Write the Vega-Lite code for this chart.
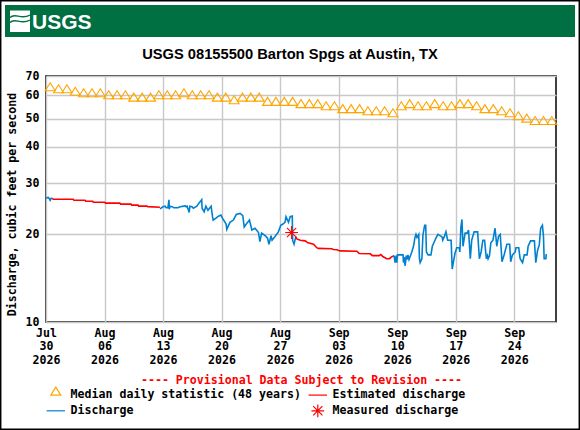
{
"$schema":"https://vega.github.io/schema/vega-lite/v6.json",
"width":510,"height":246,
"autosize":"none",
"padding":{"left":46,"top":76,"right":24,"bottom":108},
"background":"white",
"config":{"view":{"stroke":"black","strokeWidth":1.5},"font":"DejaVu Sans Mono"},
"title":{"text":"USGS 08155500 Barton Spgs at Austin, TX","font":"Liberation Sans","fontSize":14.7,"fontWeight":"bold","color":"black","anchor":"middle","dx":-11,"offset":-62},
"datasets":{
"flow":[
{"date":"2026-07-30T00:00Z","cfs":26.6,"series":"Discharge","seg":1},{"date":"2026-07-30T06:00Z","cfs":26.8,"series":"Discharge","seg":1},{"date":"2026-07-30T09:00Z","cfs":26.6,"series":"Discharge","seg":1},{"date":"2026-07-30T12:00Z","cfs":26.2,"series":"Discharge","seg":1},{"date":"2026-07-30T15:00Z","cfs":26.6,"series":"Discharge","seg":1},{"date":"2026-07-30T18:00Z","cfs":26.6,"series":"Discharge","seg":1},
{"date":"2026-07-30T18:00Z","cfs":26.6,"series":"Estimated discharge","seg":2},{"date":"2026-07-30T21:00Z","cfs":26.4,"series":"Estimated discharge","seg":2},{"date":"2026-08-02T06:00Z","cfs":26.4,"series":"Estimated discharge","seg":2},{"date":"2026-08-02T08:00Z","cfs":26.2,"series":"Estimated discharge","seg":2},{"date":"2026-08-03T16:00Z","cfs":26.2,"series":"Estimated discharge","seg":2},{"date":"2026-08-03T18:00Z","cfs":26.0,"series":"Estimated discharge","seg":2},{"date":"2026-08-04T14:00Z","cfs":26.0,"series":"Estimated discharge","seg":2},{"date":"2026-08-04T16:00Z","cfs":25.8,"series":"Estimated discharge","seg":2},{"date":"2026-08-06T00:00Z","cfs":25.8,"series":"Estimated discharge","seg":2},{"date":"2026-08-06T03:00Z","cfs":25.6,"series":"Estimated discharge","seg":2},{"date":"2026-08-07T20:00Z","cfs":25.6,"series":"Estimated discharge","seg":2},{"date":"2026-08-07T22:00Z","cfs":25.4,"series":"Estimated discharge","seg":2},{"date":"2026-08-09T04:00Z","cfs":25.4,"series":"Estimated discharge","seg":2},{"date":"2026-08-09T06:00Z","cfs":25.2,"series":"Estimated discharge","seg":2},{"date":"2026-08-10T00:00Z","cfs":25.2,"series":"Estimated discharge","seg":2},{"date":"2026-08-10T02:00Z","cfs":25.0,"series":"Estimated discharge","seg":2},{"date":"2026-08-11T02:00Z","cfs":25.0,"series":"Estimated discharge","seg":2},{"date":"2026-08-11T04:00Z","cfs":24.9,"series":"Estimated discharge","seg":2},{"date":"2026-08-12T15:00Z","cfs":24.8,"series":"Estimated discharge","seg":2},
{"date":"2026-08-12T15:00Z","cfs":24.5,"series":"Discharge","seg":3},{"date":"2026-08-12T18:00Z","cfs":24.6,"series":"Discharge","seg":3},{"date":"2026-08-13T00:00Z","cfs":24.9,"series":"Discharge","seg":3},{"date":"2026-08-13T06:00Z","cfs":25.0,"series":"Discharge","seg":3},{"date":"2026-08-13T09:00Z","cfs":24.7,"series":"Discharge","seg":3},{"date":"2026-08-13T14:00Z","cfs":24.7,"series":"Discharge","seg":3},{"date":"2026-08-13T17:00Z","cfs":26.3,"series":"Discharge","seg":3},{"date":"2026-08-13T18:00Z","cfs":24.4,"series":"Discharge","seg":3},{"date":"2026-08-13T20:00Z","cfs":25.0,"series":"Discharge","seg":3},{"date":"2026-08-14T02:00Z","cfs":24.9,"series":"Discharge","seg":3},{"date":"2026-08-14T07:00Z","cfs":24.7,"series":"Discharge","seg":3},{"date":"2026-08-14T19:00Z","cfs":24.7,"series":"Discharge","seg":3},{"date":"2026-08-15T01:00Z","cfs":24.9,"series":"Discharge","seg":3},{"date":"2026-08-15T12:00Z","cfs":25.0,"series":"Discharge","seg":3},{"date":"2026-08-15T15:00Z","cfs":25.1,"series":"Discharge","seg":3},{"date":"2026-08-15T18:00Z","cfs":24.9,"series":"Discharge","seg":3},{"date":"2026-08-15T21:00Z","cfs":25.0,"series":"Discharge","seg":3},{"date":"2026-08-16T00:00Z","cfs":24.4,"series":"Discharge","seg":3},{"date":"2026-08-16T03:00Z","cfs":23.8,"series":"Discharge","seg":3},{"date":"2026-08-16T05:00Z","cfs":25.0,"series":"Discharge","seg":3},{"date":"2026-08-16T11:00Z","cfs":24.9,"series":"Discharge","seg":3},{"date":"2026-08-16T15:00Z","cfs":24.6,"series":"Discharge","seg":3},{"date":"2026-08-17T01:00Z","cfs":25.0,"series":"Discharge","seg":3},{"date":"2026-08-17T07:00Z","cfs":25.6,"series":"Discharge","seg":3},{"date":"2026-08-17T15:00Z","cfs":26.3,"series":"Discharge","seg":3},{"date":"2026-08-17T16:00Z","cfs":24.6,"series":"Discharge","seg":3},{"date":"2026-08-17T22:00Z","cfs":23.9,"series":"Discharge","seg":3},{"date":"2026-08-18T03:00Z","cfs":25.0,"series":"Discharge","seg":3},{"date":"2026-08-18T09:00Z","cfs":24.2,"series":"Discharge","seg":3},{"date":"2026-08-18T18:00Z","cfs":25.0,"series":"Discharge","seg":3},{"date":"2026-08-18T22:00Z","cfs":23.0,"series":"Discharge","seg":3},{"date":"2026-08-19T00:00Z","cfs":22.4,"series":"Discharge","seg":3},{"date":"2026-08-19T07:00Z","cfs":22.7,"series":"Discharge","seg":3},{"date":"2026-08-19T15:00Z","cfs":23.1,"series":"Discharge","seg":3},{"date":"2026-08-19T22:00Z","cfs":23.3,"series":"Discharge","seg":3},{"date":"2026-08-20T03:00Z","cfs":22.7,"series":"Discharge","seg":3},{"date":"2026-08-20T13:00Z","cfs":21.7,"series":"Discharge","seg":3},{"date":"2026-08-20T15:00Z","cfs":20.8,"series":"Discharge","seg":3},{"date":"2026-08-21T00:00Z","cfs":22.0,"series":"Discharge","seg":3},{"date":"2026-08-21T10:00Z","cfs":22.4,"series":"Discharge","seg":3},{"date":"2026-08-21T18:00Z","cfs":23.4,"series":"Discharge","seg":3},{"date":"2026-08-22T05:00Z","cfs":23.6,"series":"Discharge","seg":3},{"date":"2026-08-22T13:00Z","cfs":23.2,"series":"Discharge","seg":3},{"date":"2026-08-22T17:00Z","cfs":21.2,"series":"Discharge","seg":3},{"date":"2026-08-22T23:00Z","cfs":21.7,"series":"Discharge","seg":3},{"date":"2026-08-23T08:00Z","cfs":22.4,"series":"Discharge","seg":3},{"date":"2026-08-23T15:00Z","cfs":20.7,"series":"Discharge","seg":3},{"date":"2026-08-24T00:00Z","cfs":21.0,"series":"Discharge","seg":3},{"date":"2026-08-24T10:00Z","cfs":20.3,"series":"Discharge","seg":3},{"date":"2026-08-24T14:00Z","cfs":18.9,"series":"Discharge","seg":3},{"date":"2026-08-24T19:00Z","cfs":20.2,"series":"Discharge","seg":3},{"date":"2026-08-25T05:00Z","cfs":19.8,"series":"Discharge","seg":3},{"date":"2026-08-25T12:00Z","cfs":19.4,"series":"Discharge","seg":3},{"date":"2026-08-25T16:00Z","cfs":18.5,"series":"Discharge","seg":3},{"date":"2026-08-25T22:00Z","cfs":19.8,"series":"Discharge","seg":3},{"date":"2026-08-26T01:00Z","cfs":19.1,"series":"Discharge","seg":3},{"date":"2026-08-26T10:00Z","cfs":19.7,"series":"Discharge","seg":3},{"date":"2026-08-26T19:00Z","cfs":20.4,"series":"Discharge","seg":3},{"date":"2026-08-27T02:00Z","cfs":21.5,"series":"Discharge","seg":3},{"date":"2026-08-27T08:00Z","cfs":21.7,"series":"Discharge","seg":3},{"date":"2026-08-27T14:00Z","cfs":22.0,"series":"Discharge","seg":3},{"date":"2026-08-27T17:00Z","cfs":23.0,"series":"Discharge","seg":3},{"date":"2026-08-28T00:00Z","cfs":22.0,"series":"Discharge","seg":3},{"date":"2026-08-28T05:00Z","cfs":23.0,"series":"Discharge","seg":3},{"date":"2026-08-28T11:00Z","cfs":23.1,"series":"Discharge","seg":3},{"date":"2026-08-28T12:00Z","cfs":19.1,"series":"Discharge","seg":3},{"date":"2026-08-28T16:00Z","cfs":18.5,"series":"Discharge","seg":3},{"date":"2026-08-28T21:00Z","cfs":19.6,"series":"Discharge","seg":3},
{"date":"2026-08-28T21:00Z","cfs":19.6,"series":"Estimated discharge","seg":4},{"date":"2026-08-29T00:00Z","cfs":19.3,"series":"Estimated discharge","seg":4},{"date":"2026-08-29T10:00Z","cfs":19.1,"series":"Estimated discharge","seg":4},{"date":"2026-08-30T00:00Z","cfs":19.0,"series":"Estimated discharge","seg":4},{"date":"2026-08-30T08:00Z","cfs":18.7,"series":"Estimated discharge","seg":4},{"date":"2026-08-31T00:00Z","cfs":18.5,"series":"Estimated discharge","seg":4},{"date":"2026-08-31T09:00Z","cfs":18.0,"series":"Estimated discharge","seg":4},{"date":"2026-08-31T14:00Z","cfs":17.9,"series":"Estimated discharge","seg":4},{"date":"2026-09-02T04:00Z","cfs":17.85,"series":"Estimated discharge","seg":4},{"date":"2026-09-02T09:00Z","cfs":17.75,"series":"Estimated discharge","seg":4},{"date":"2026-09-02T19:00Z","cfs":17.7,"series":"Estimated discharge","seg":4},{"date":"2026-09-03T04:00Z","cfs":17.55,"series":"Estimated discharge","seg":4},{"date":"2026-09-05T04:00Z","cfs":17.5,"series":"Estimated discharge","seg":4},{"date":"2026-09-05T11:00Z","cfs":17.2,"series":"Estimated discharge","seg":4},{"date":"2026-09-06T19:00Z","cfs":17.15,"series":"Estimated discharge","seg":4},{"date":"2026-09-07T01:00Z","cfs":16.9,"series":"Estimated discharge","seg":4},{"date":"2026-09-07T20:00Z","cfs":16.9,"series":"Estimated discharge","seg":4},{"date":"2026-09-08T01:00Z","cfs":17.05,"series":"Estimated discharge","seg":4},{"date":"2026-09-08T08:00Z","cfs":16.75,"series":"Estimated discharge","seg":4},{"date":"2026-09-08T18:00Z","cfs":16.5,"series":"Estimated discharge","seg":4},{"date":"2026-09-09T02:00Z","cfs":16.5,"series":"Estimated discharge","seg":4},{"date":"2026-09-09T07:00Z","cfs":16.7,"series":"Estimated discharge","seg":4},{"date":"2026-09-09T15:00Z","cfs":16.9,"series":"Estimated discharge","seg":4},
{"date":"2026-09-09T15:00Z","cfs":16.9,"series":"Discharge","seg":5},{"date":"2026-09-09T18:00Z","cfs":16.0,"series":"Discharge","seg":5},{"date":"2026-09-09T21:00Z","cfs":16.9,"series":"Discharge","seg":5},{"date":"2026-09-09T23:00Z","cfs":16.0,"series":"Discharge","seg":5},{"date":"2026-09-10T01:00Z","cfs":17.0,"series":"Discharge","seg":5},{"date":"2026-09-10T13:00Z","cfs":17.0,"series":"Discharge","seg":5},{"date":"2026-09-10T17:00Z","cfs":17.0,"series":"Discharge","seg":5},{"date":"2026-09-10T18:00Z","cfs":16.0,"series":"Discharge","seg":5},{"date":"2026-09-10T20:00Z","cfs":16.7,"series":"Discharge","seg":5},{"date":"2026-09-10T23:00Z","cfs":15.6,"series":"Discharge","seg":5},{"date":"2026-09-11T02:00Z","cfs":16.9,"series":"Discharge","seg":5},{"date":"2026-09-11T05:00Z","cfs":16.4,"series":"Discharge","seg":5},{"date":"2026-09-11T07:00Z","cfs":17.0,"series":"Discharge","seg":5},{"date":"2026-09-11T10:00Z","cfs":16.4,"series":"Discharge","seg":5},{"date":"2026-09-11T15:00Z","cfs":17.0,"series":"Discharge","seg":5},{"date":"2026-09-11T18:00Z","cfs":17.4,"series":"Discharge","seg":5},{"date":"2026-09-11T23:00Z","cfs":18.2,"series":"Discharge","seg":5},{"date":"2026-09-12T03:00Z","cfs":19.5,"series":"Discharge","seg":5},{"date":"2026-09-12T06:00Z","cfs":20.0,"series":"Discharge","seg":5},{"date":"2026-09-12T09:00Z","cfs":19.5,"series":"Discharge","seg":5},{"date":"2026-09-12T14:00Z","cfs":20.0,"series":"Discharge","seg":5},{"date":"2026-09-12T16:00Z","cfs":16.5,"series":"Discharge","seg":5},{"date":"2026-09-12T18:00Z","cfs":16.0,"series":"Discharge","seg":5},{"date":"2026-09-12T23:00Z","cfs":16.5,"series":"Discharge","seg":5},{"date":"2026-09-13T02:00Z","cfs":19.9,"series":"Discharge","seg":5},{"date":"2026-09-13T07:00Z","cfs":21.5,"series":"Discharge","seg":5},{"date":"2026-09-13T10:00Z","cfs":21.5,"series":"Discharge","seg":5},{"date":"2026-09-13T12:00Z","cfs":17.4,"series":"Discharge","seg":5},{"date":"2026-09-13T17:00Z","cfs":17.0,"series":"Discharge","seg":5},{"date":"2026-09-14T01:00Z","cfs":17.0,"series":"Discharge","seg":5},{"date":"2026-09-14T05:00Z","cfs":18.2,"series":"Discharge","seg":5},{"date":"2026-09-14T11:00Z","cfs":18.9,"series":"Discharge","seg":5},{"date":"2026-09-14T16:00Z","cfs":19.5,"series":"Discharge","seg":5},{"date":"2026-09-14T21:00Z","cfs":20.0,"series":"Discharge","seg":5},{"date":"2026-09-15T09:00Z","cfs":19.6,"series":"Discharge","seg":5},{"date":"2026-09-15T11:00Z","cfs":19.1,"series":"Discharge","seg":5},{"date":"2026-09-15T15:00Z","cfs":19.6,"series":"Discharge","seg":5},{"date":"2026-09-15T20:00Z","cfs":20.4,"series":"Discharge","seg":5},{"date":"2026-09-16T01:00Z","cfs":19.1,"series":"Discharge","seg":5},{"date":"2026-09-16T11:00Z","cfs":19.1,"series":"Discharge","seg":5},{"date":"2026-09-16T14:00Z","cfs":15.2,"series":"Discharge","seg":5},{"date":"2026-09-16T18:00Z","cfs":16.2,"series":"Discharge","seg":5},{"date":"2026-09-16T22:00Z","cfs":17.2,"series":"Discharge","seg":5},{"date":"2026-09-17T03:00Z","cfs":18.0,"series":"Discharge","seg":5},{"date":"2026-09-17T10:00Z","cfs":18.0,"series":"Discharge","seg":5},{"date":"2026-09-17T12:00Z","cfs":17.4,"series":"Discharge","seg":5},{"date":"2026-09-17T15:00Z","cfs":21.2,"series":"Discharge","seg":5},{"date":"2026-09-17T18:00Z","cfs":22.5,"series":"Discharge","seg":5},{"date":"2026-09-17T21:00Z","cfs":18.2,"series":"Discharge","seg":5},{"date":"2026-09-18T03:00Z","cfs":20.2,"series":"Discharge","seg":5},{"date":"2026-09-18T09:00Z","cfs":20.2,"series":"Discharge","seg":5},{"date":"2026-09-18T13:00Z","cfs":20.7,"series":"Discharge","seg":5},{"date":"2026-09-18T18:00Z","cfs":16.5,"series":"Discharge","seg":5},{"date":"2026-09-18T22:00Z","cfs":19.1,"series":"Discharge","seg":5},{"date":"2026-09-19T05:00Z","cfs":20.4,"series":"Discharge","seg":5},{"date":"2026-09-19T15:00Z","cfs":20.4,"series":"Discharge","seg":5},{"date":"2026-09-19T20:00Z","cfs":16.5,"series":"Discharge","seg":5},{"date":"2026-09-20T01:00Z","cfs":17.4,"series":"Discharge","seg":5},{"date":"2026-09-20T06:00Z","cfs":19.1,"series":"Discharge","seg":5},{"date":"2026-09-20T11:00Z","cfs":19.1,"series":"Discharge","seg":5},{"date":"2026-09-20T16:00Z","cfs":16.5,"series":"Discharge","seg":5},{"date":"2026-09-20T19:00Z","cfs":16.9,"series":"Discharge","seg":5},{"date":"2026-09-20T21:00Z","cfs":16.5,"series":"Discharge","seg":5},{"date":"2026-09-21T01:00Z","cfs":16.9,"series":"Discharge","seg":5},{"date":"2026-09-21T05:00Z","cfs":18.7,"series":"Discharge","seg":5},{"date":"2026-09-21T11:00Z","cfs":19.1,"series":"Discharge","seg":5},{"date":"2026-09-21T17:00Z","cfs":21.0,"series":"Discharge","seg":5},{"date":"2026-09-21T22:00Z","cfs":18.2,"series":"Discharge","seg":5},{"date":"2026-09-22T03:00Z","cfs":19.7,"series":"Discharge","seg":5},{"date":"2026-09-22T08:00Z","cfs":20.0,"series":"Discharge","seg":5},{"date":"2026-09-22T13:00Z","cfs":16.1,"series":"Discharge","seg":5},{"date":"2026-09-22T19:00Z","cfs":17.0,"series":"Discharge","seg":5},{"date":"2026-09-23T03:00Z","cfs":18.5,"series":"Discharge","seg":5},{"date":"2026-09-23T11:00Z","cfs":18.5,"series":"Discharge","seg":5},{"date":"2026-09-23T14:00Z","cfs":16.1,"series":"Discharge","seg":5},{"date":"2026-09-23T19:00Z","cfs":17.0,"series":"Discharge","seg":5},{"date":"2026-09-24T03:00Z","cfs":17.4,"series":"Discharge","seg":5},{"date":"2026-09-24T05:00Z","cfs":18.0,"series":"Discharge","seg":5},{"date":"2026-09-24T13:00Z","cfs":18.0,"series":"Discharge","seg":5},{"date":"2026-09-24T17:00Z","cfs":16.5,"series":"Discharge","seg":5},{"date":"2026-09-25T00:00Z","cfs":16.0,"series":"Discharge","seg":5},{"date":"2026-09-25T05:00Z","cfs":17.0,"series":"Discharge","seg":5},{"date":"2026-09-25T13:00Z","cfs":17.0,"series":"Discharge","seg":5},{"date":"2026-09-25T16:00Z","cfs":18.2,"series":"Discharge","seg":5},{"date":"2026-09-25T23:00Z","cfs":19.0,"series":"Discharge","seg":5},{"date":"2026-09-26T10:00Z","cfs":19.0,"series":"Discharge","seg":5},{"date":"2026-09-26T14:00Z","cfs":16.0,"series":"Discharge","seg":5},{"date":"2026-09-26T19:00Z","cfs":17.6,"series":"Discharge","seg":5},{"date":"2026-09-27T00:00Z","cfs":18.4,"series":"Discharge","seg":5},{"date":"2026-09-27T04:00Z","cfs":21.0,"series":"Discharge","seg":5},{"date":"2026-09-27T09:00Z","cfs":21.5,"series":"Discharge","seg":5},{"date":"2026-09-27T12:00Z","cfs":19.75,"series":"Discharge","seg":5},{"date":"2026-09-27T14:00Z","cfs":16.5,"series":"Discharge","seg":5},{"date":"2026-09-27T19:00Z","cfs":16.5,"series":"Discharge","seg":5},{"date":"2026-09-27T20:00Z","cfs":17.0,"series":"Discharge","seg":5},{"date":"2026-09-27T22:00Z","cfs":17.0,"series":"Discharge","seg":5}
],
"stat":[
{"date":"2026-07-30T12:00Z","cfs":62.3,"series":"Median daily statistic (48 years)"},{"date":"2026-07-31T12:00Z","cfs":61.3,"series":"Median daily statistic (48 years)"},{"date":"2026-08-01T12:00Z","cfs":61.3,"series":"Median daily statistic (48 years)"},{"date":"2026-08-02T12:00Z","cfs":60.1,"series":"Median daily statistic (48 years)"},{"date":"2026-08-03T12:00Z","cfs":59.4,"series":"Median daily statistic (48 years)"},{"date":"2026-08-04T12:00Z","cfs":59.4,"series":"Median daily statistic (48 years)"},{"date":"2026-08-05T12:00Z","cfs":59.4,"series":"Median daily statistic (48 years)"},{"date":"2026-08-06T12:00Z","cfs":58.5,"series":"Median daily statistic (48 years)"},{"date":"2026-08-07T12:00Z","cfs":58.5,"series":"Median daily statistic (48 years)"},{"date":"2026-08-08T12:00Z","cfs":58.5,"series":"Median daily statistic (48 years)"},{"date":"2026-08-09T12:00Z","cfs":57.4,"series":"Median daily statistic (48 years)"},{"date":"2026-08-10T12:00Z","cfs":57.4,"series":"Median daily statistic (48 years)"},{"date":"2026-08-11T12:00Z","cfs":57.4,"series":"Median daily statistic (48 years)"},{"date":"2026-08-12T12:00Z","cfs":58.5,"series":"Median daily statistic (48 years)"},{"date":"2026-08-13T12:00Z","cfs":58.5,"series":"Median daily statistic (48 years)"},{"date":"2026-08-14T12:00Z","cfs":58.5,"series":"Median daily statistic (48 years)"},{"date":"2026-08-15T12:00Z","cfs":59.4,"series":"Median daily statistic (48 years)"},{"date":"2026-08-16T12:00Z","cfs":58.5,"series":"Median daily statistic (48 years)"},{"date":"2026-08-17T12:00Z","cfs":58.5,"series":"Median daily statistic (48 years)"},{"date":"2026-08-18T12:00Z","cfs":58.5,"series":"Median daily statistic (48 years)"},{"date":"2026-08-19T12:00Z","cfs":57.4,"series":"Median daily statistic (48 years)"},{"date":"2026-08-20T12:00Z","cfs":57.4,"series":"Median daily statistic (48 years)"},{"date":"2026-08-21T12:00Z","cfs":56.2,"series":"Median daily statistic (48 years)"},{"date":"2026-08-22T12:00Z","cfs":57.4,"series":"Median daily statistic (48 years)"},{"date":"2026-08-23T12:00Z","cfs":57.4,"series":"Median daily statistic (48 years)"},{"date":"2026-08-24T12:00Z","cfs":57.4,"series":"Median daily statistic (48 years)"},{"date":"2026-08-25T12:00Z","cfs":55.5,"series":"Median daily statistic (48 years)"},{"date":"2026-08-26T12:00Z","cfs":55.5,"series":"Median daily statistic (48 years)"},{"date":"2026-08-27T12:00Z","cfs":55.5,"series":"Median daily statistic (48 years)"},{"date":"2026-08-28T12:00Z","cfs":55.5,"series":"Median daily statistic (48 years)"},{"date":"2026-08-29T12:00Z","cfs":54.5,"series":"Median daily statistic (48 years)"},{"date":"2026-08-30T12:00Z","cfs":54.5,"series":"Median daily statistic (48 years)"},{"date":"2026-08-31T12:00Z","cfs":54.5,"series":"Median daily statistic (48 years)"},{"date":"2026-09-01T12:00Z","cfs":53.6,"series":"Median daily statistic (48 years)"},{"date":"2026-09-02T12:00Z","cfs":53.6,"series":"Median daily statistic (48 years)"},{"date":"2026-09-03T12:00Z","cfs":52.4,"series":"Median daily statistic (48 years)"},{"date":"2026-09-04T12:00Z","cfs":52.4,"series":"Median daily statistic (48 years)"},{"date":"2026-09-05T12:00Z","cfs":52.4,"series":"Median daily statistic (48 years)"},{"date":"2026-09-06T12:00Z","cfs":51.5,"series":"Median daily statistic (48 years)"},{"date":"2026-09-07T12:00Z","cfs":51.5,"series":"Median daily statistic (48 years)"},{"date":"2026-09-08T12:00Z","cfs":51.5,"series":"Median daily statistic (48 years)"},{"date":"2026-09-09T12:00Z","cfs":50.7,"series":"Median daily statistic (48 years)"},{"date":"2026-09-10T12:00Z","cfs":53.6,"series":"Median daily statistic (48 years)"},{"date":"2026-09-11T12:00Z","cfs":54.5,"series":"Median daily statistic (48 years)"},{"date":"2026-09-12T12:00Z","cfs":53.6,"series":"Median daily statistic (48 years)"},{"date":"2026-09-13T12:00Z","cfs":53.6,"series":"Median daily statistic (48 years)"},{"date":"2026-09-14T12:00Z","cfs":54.5,"series":"Median daily statistic (48 years)"},{"date":"2026-09-15T12:00Z","cfs":53.6,"series":"Median daily statistic (48 years)"},{"date":"2026-09-16T12:00Z","cfs":53.6,"series":"Median daily statistic (48 years)"},{"date":"2026-09-17T12:00Z","cfs":54.5,"series":"Median daily statistic (48 years)"},{"date":"2026-09-18T12:00Z","cfs":54.5,"series":"Median daily statistic (48 years)"},{"date":"2026-09-19T12:00Z","cfs":53.6,"series":"Median daily statistic (48 years)"},{"date":"2026-09-20T12:00Z","cfs":52.4,"series":"Median daily statistic (48 years)"},{"date":"2026-09-21T12:00Z","cfs":52.4,"series":"Median daily statistic (48 years)"},{"date":"2026-09-22T12:00Z","cfs":51.5,"series":"Median daily statistic (48 years)"},{"date":"2026-09-23T12:00Z","cfs":50.7,"series":"Median daily statistic (48 years)"},{"date":"2026-09-24T12:00Z","cfs":49.5,"series":"Median daily statistic (48 years)"},{"date":"2026-09-25T12:00Z","cfs":48.6,"series":"Median daily statistic (48 years)"},{"date":"2026-09-26T12:00Z","cfs":47.7,"series":"Median daily statistic (48 years)"},{"date":"2026-09-27T12:00Z","cfs":47.7,"series":"Median daily statistic (48 years)"},{"date":"2026-09-28T12:00Z","cfs":47.7,"series":"Median daily statistic (48 years)"},
{"date":"2026-08-28T09:00Z","cfs":20.3,"series":"Measured discharge"}
]
},
"layer":[
{"data":{"values":[{"part":"frame"}]},
 "encoding":{
  "x":{"datum":0.5,"type":"quantitative","axis":null,"scale":{"domain":[0,580],"range":[-46,534]}},
  "y":{"datum":0.5,"type":"quantitative","axis":null,"scale":{"domain":[0,430],"range":[-76,354]}}},
 "layer":[
  {"mark":{"type":"rect","fill":null,"fillOpacity":0,"stroke":"black","strokeWidth":1.5,"clip":false},
   "encoding":{"x":{"datum":0.7,"type":"quantitative"},"x2":{"datum":579.3},"y":{"datum":0.7,"type":"quantitative"},"y2":{"datum":429.3}}},
  {"mark":{"type":"rect","fill":"#006F41","clip":false},
   "encoding":{"x":{"datum":5,"type":"quantitative"},"x2":{"datum":575},"y":{"datum":5,"type":"quantitative"},"y2":{"datum":37}}},
  {"mark":{"type":"rect","fill":"white","clip":false},
   "encoding":{"x":{"datum":10,"type":"quantitative"},"x2":{"datum":30},"y":{"datum":10.5,"type":"quantitative"},"y2":{"datum":32}}},
  {"mark":{"type":"point","shape":"M-1,-0.35C-0.5,-0.9 0.1,-0.05 1,-0.6","size":400,"filled":false,"stroke":"#006F41","strokeWidth":1.4,"opacity":1,"clip":false},
   "encoding":{"x":{"datum":20,"type":"quantitative"},"y":{"datum":21,"type":"quantitative"}}},
  {"mark":{"type":"point","shape":"M-1,-0.35C-0.5,-0.9 0.1,-0.05 1,-0.6","size":400,"filled":false,"stroke":"#006F41","strokeWidth":1.4,"opacity":1,"clip":false},
   "encoding":{"x":{"datum":20,"type":"quantitative"},"y":{"datum":26,"type":"quantitative"}}},
  {"mark":{"type":"text","text":"USGS","font":"Liberation Sans","fontSize":21,"fontWeight":"bold","fill":"white","align":"left","baseline":"alphabetic","clip":false},
   "encoding":{"x":{"datum":32,"type":"quantitative"},"y":{"datum":29,"type":"quantitative"}}}
 ]
},
{"layer":[
 {"data":{"name":"flow"},
  "mark":{"type":"line","strokeWidth":1.6,"interpolate":"linear","clip":false},
  "encoding":{
   "x":{"field":"date","type":"temporal",
    "scale":{"type":"utc","domain":[{"year":2026,"month":"jul","date":30,"utc":true},{"year":2026,"month":"sep","date":29,"utc":true}]},
    "axis":{"title":"---- Provisional Data Subject to Revision ----","titleColor":"#FF0000","titleFont":"DejaVu Sans Mono","titleFontSize":11.6,"titleFontWeight":"bold","titlePadding":9,
     "values":[{"year":2026,"month":"jul","date":30,"utc":true},{"year":2026,"month":"aug","date":6,"utc":true},{"year":2026,"month":"aug","date":13,"utc":true},{"year":2026,"month":"aug","date":20,"utc":true},{"year":2026,"month":"aug","date":27,"utc":true},{"year":2026,"month":"sep","date":3,"utc":true},{"year":2026,"month":"sep","date":10,"utc":true},{"year":2026,"month":"sep","date":17,"utc":true},{"year":2026,"month":"sep","date":24,"utc":true}],
     "labelExpr":"[utcFormat(datum.value,'%b'),utcFormat(datum.value,'%d'),utcFormat(datum.value,'%Y')]",
     "labelFont":"DejaVu Sans Mono","labelFontSize":11.6,"labelFontWeight":"bold","labelColor":"black","labelLineHeight":13.5,"labelPadding":5,"labelAngle":0,"labelOverlap":false,"labelFlush":false,
     "ticks":false,"domain":false,"grid":true,"gridColor":"#C8C8C8","gridWidth":1.4}},
   "y":{"field":"cfs","type":"quantitative",
    "scale":{"type":"log","domain":[10,70],"nice":false},
    "axis":{"title":"Discharge, cubic feet per second","titleFont":"DejaVu Sans Mono","titleFontSize":11.6,"titleFontWeight":"bold","titleColor":"black","titleY":128,"titleX":-29,
     "values":[10,20,30,40,50,60,70],"format":"d",
     "labelFont":"DejaVu Sans Mono","labelFontSize":11.6,"labelFontWeight":"bold","labelColor":"black","labelPadding":7,
     "ticks":false,"domain":false,"grid":true,"gridColor":"#C8C8C8","gridWidth":1.4}},
   "detail":{"field":"seg"},
   "color":{"field":"series","type":"nominal",
    "scale":{"domain":["Median daily statistic (48 years)","Discharge","Estimated discharge","Measured discharge"],"range":["#FFA500","#0080D0","#FF0000","#FF0000"]},
    "legend":{"title":null,"orient":"none","legendX":4,"legendY":313,"columns":2,"columnPadding":5,"rowPadding":0,"padding":0,"labelFont":"DejaVu Sans Mono","labelFontSize":11.6,"labelFontWeight":"bold","labelColor":"black","labelOffset":9,"symbolSize":64,"symbolStrokeWidth":1.2,"labelLimit":400}}}},
 {"data":{"name":"stat"},
  "mark":{"type":"point","filled":false,"strokeWidth":1.1,"opacity":1,"size":64,"clip":false},
  "encoding":{
   "x":{"field":"date","type":"temporal"},
   "y":{"field":"cfs","type":"quantitative"},
   "color":{"field":"series","type":"nominal"},
   "shape":{"field":"series","type":"nominal",
    "scale":{"domain":["Median daily statistic (48 years)","Discharge","Estimated discharge","Measured discharge"],"range":["M-1.25,0L0,-2L1.25,0Z","M-2.3,0H2.3","M-2.3,0H2.3","M-1.6,0H1.6M0,-1.6V1.6M-1.15,-1.15L1.15,1.15M-1.15,1.15L1.15,-1.15"]},
    "legend":{"title":null,"orient":"none","legendX":4,"legendY":313,"columns":2,"columnPadding":5,"rowPadding":0,"padding":0,"labelFont":"DejaVu Sans Mono","labelFontSize":11.6,"labelFontWeight":"bold","labelColor":"black","labelOffset":9,"symbolSize":64,"symbolStrokeWidth":1.2,"labelLimit":400}}}}
 ]
}
],
"resolve":{"scale":{"x":"independent","y":"independent"}}
}
